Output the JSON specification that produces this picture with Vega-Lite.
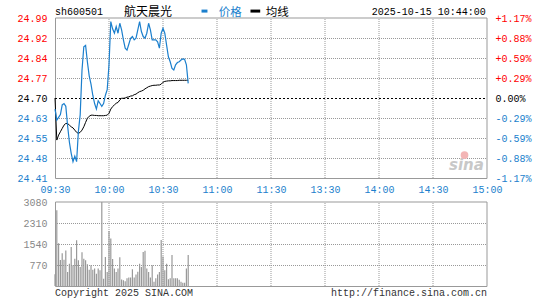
{
  "$schema": "https://vega.github.io/schema/vega-lite/v6.json",
  "width": 442,
  "height": 268,
  "autosize": {"type": "none"},
  "padding": {"left": 50, "top": 18, "right": 53, "bottom": 14},
  "background": "white",
  "config": {"view": {"stroke": null}, "text": {"font": "Liberation Mono", "fontSize": 10}},
  "datasets": {
    "ticks": [{"t": 30}, {"t": 60}, {"t": 90}, {"t": 120}, {"t": 150}, {"t": 180}, {"t": 210}],
    "min": [
      {"t": 0, "price": 24.66, "avg": 24.70, "vol": 430},
      {"t": 1, "price": 24.62, "avg": 24.548, "vol": 2780},
      {"t": 2, "price": 24.63, "avg": 24.566, "vol": 1570},
      {"t": 3, "price": 24.64, "avg": 24.578, "vol": 950},
      {"t": 4, "price": 24.675, "avg": 24.59, "vol": 1200},
      {"t": 5, "price": 24.68, "avg": 24.602, "vol": 960},
      {"t": 6, "price": 24.67, "avg": 24.608, "vol": 1300},
      {"t": 7, "price": 24.60, "avg": 24.608, "vol": 510},
      {"t": 8, "price": 24.54, "avg": 24.602, "vol": 820},
      {"t": 9, "price": 24.50, "avg": 24.596, "vol": 1430},
      {"t": 10, "price": 24.47, "avg": 24.592, "vol": 760},
      {"t": 11, "price": 24.49, "avg": 24.584, "vol": 1000},
      {"t": 12, "price": 24.47, "avg": 24.576, "vol": 1680},
      {"t": 13, "price": 24.58, "avg": 24.572, "vol": 940},
      {"t": 14, "price": 24.64, "avg": 24.576, "vol": 700},
      {"t": 15, "price": 24.80, "avg": 24.584, "vol": 1240},
      {"t": 16, "price": 24.885, "avg": 24.596, "vol": 1000},
      {"t": 17, "price": 24.89, "avg": 24.612, "vol": 940},
      {"t": 18, "price": 24.83, "avg": 24.627, "vol": 800},
      {"t": 19, "price": 24.78, "avg": 24.634, "vol": 600},
      {"t": 20, "price": 24.75, "avg": 24.638, "vol": 760},
      {"t": 21, "price": 24.71, "avg": 24.638, "vol": 600},
      {"t": 22, "price": 24.68, "avg": 24.637, "vol": 640},
      {"t": 23, "price": 24.66, "avg": 24.637, "vol": 450},
      {"t": 24, "price": 24.69, "avg": 24.636, "vol": 640},
      {"t": 25, "price": 24.68, "avg": 24.636, "vol": 580},
      {"t": 26, "price": 24.67, "avg": 24.636, "vol": 3080},
      {"t": 27, "price": 24.68, "avg": 24.636, "vol": 270},
      {"t": 28, "price": 24.71, "avg": 24.637, "vol": 1060},
      {"t": 29, "price": 24.73, "avg": 24.638, "vol": 510},
      {"t": 30, "price": 24.82, "avg": 24.645, "vol": 2020},
      {"t": 31, "price": 24.976, "avg": 24.66, "vol": 1740},
      {"t": 32, "price": 24.95, "avg": 24.669, "vol": 990},
      {"t": 33, "price": 24.934, "avg": 24.675, "vol": 640},
      {"t": 34, "price": 24.958, "avg": 24.681, "vol": 510},
      {"t": 35, "price": 24.934, "avg": 24.684, "vol": 640},
      {"t": 36, "price": 24.97, "avg": 24.693, "vol": 1050},
      {"t": 37, "price": 24.946, "avg": 24.699, "vol": 240},
      {"t": 38, "price": 24.91, "avg": 24.699, "vol": 210},
      {"t": 39, "price": 24.88, "avg": 24.70, "vol": 170},
      {"t": 40, "price": 24.873, "avg": 24.703, "vol": 280},
      {"t": 41, "price": 24.894, "avg": 24.704, "vol": 310},
      {"t": 42, "price": 24.916, "avg": 24.707, "vol": 310},
      {"t": 43, "price": 24.922, "avg": 24.708, "vol": 610},
      {"t": 44, "price": 24.91, "avg": 24.712, "vol": 310},
      {"t": 45, "price": 24.916, "avg": 24.714, "vol": 420},
      {"t": 46, "price": 24.946, "avg": 24.719, "vol": 520},
      {"t": 47, "price": 24.976, "avg": 24.723, "vol": 820},
      {"t": 48, "price": 24.94, "avg": 24.725, "vol": 700},
      {"t": 49, "price": 24.922, "avg": 24.728, "vol": 1250},
      {"t": 50, "price": 24.916, "avg": 24.733, "vol": 1290},
      {"t": 51, "price": 24.934, "avg": 24.737, "vol": 640},
      {"t": 52, "price": 24.97, "avg": 24.741, "vol": 510},
      {"t": 53, "price": 24.946, "avg": 24.743, "vol": 310},
      {"t": 54, "price": 24.91, "avg": 24.745, "vol": 760},
      {"t": 55, "price": 24.91, "avg": 24.746, "vol": 160},
      {"t": 56, "price": 24.91, "avg": 24.746, "vol": 280},
      {"t": 57, "price": 24.903, "avg": 24.747, "vol": 420},
      {"t": 58, "price": 24.88, "avg": 24.747, "vol": 510},
      {"t": 59, "price": 24.934, "avg": 24.75, "vol": 1690},
      {"t": 60, "price": 24.952, "avg": 24.757, "vol": 1080},
      {"t": 61, "price": 24.934, "avg": 24.76, "vol": 580},
      {"t": 62, "price": 24.891, "avg": 24.761, "vol": 820},
      {"t": 63, "price": 24.849, "avg": 24.762, "vol": 250},
      {"t": 64, "price": 24.831, "avg": 24.762, "vol": 280},
      {"t": 65, "price": 24.807, "avg": 24.763, "vol": 1140},
      {"t": 66, "price": 24.801, "avg": 24.763, "vol": 280},
      {"t": 67, "price": 24.82, "avg": 24.763, "vol": 280},
      {"t": 68, "price": 24.828, "avg": 24.763, "vol": 280},
      {"t": 69, "price": 24.831, "avg": 24.764, "vol": 230},
      {"t": 70, "price": 24.837, "avg": 24.764, "vol": 160},
      {"t": 71, "price": 24.841, "avg": 24.764, "vol": 120},
      {"t": 72, "price": 24.84, "avg": 24.764, "vol": 120},
      {"t": 73, "price": 24.82, "avg": 24.764, "vol": 640},
      {"t": 74, "price": 24.753, "avg": 24.764, "vol": 1140}
    ]
  },
  "resolve": {"scale": {"y": "independent"}, "axis": {"y": "independent"}},
  "layer": [
    {
      "data": {"name": "ticks"},
      "mark": {"type": "rule", "color": "#999999", "strokeDash": [1, 1], "strokeWidth": 1},
      "encoding": {
        "x": {"field": "t", "type": "quantitative", "scale": {"domain": [0, 240], "nice": false, "zero": false},
          "axis": {"orient": "bottom", "offset": -108, "values": [0, 30, 60, 90, 120, 150, 180, 210, 240],
            "labelExpr": "['09:30','10:00','10:30','11:00','11:30','13:30','14:00','14:30','15:00'][round(datum.value/30)]",
            "labelColor": "#1b7fcd", "labelFont": "Liberation Mono", "labelFontSize": 10, "labelPadding": 6,
            "grid": false, "domain": false, "ticks": false, "tickSize": 0, "title": null, "labelFlush": false, "labelOverlap": false}},
        "y": {"datum": 24.411, "type": "quantitative", "scale": {"domain": [24.411, 24.989], "range": [160, 0], "nice": false, "zero": false}, "axis": null},
        "y2": {"datum": 24.989}
      }
    },
    {"data": {"values": [{}]}, "mark": {"type": "rule", "color": "#999999", "strokeDash": [1, 1], "strokeWidth": 1, "yOffset": 0.5},
      "encoding": {"x": {"datum": 0, "type": "quantitative", "scale": {"domain": [0, 240], "nice": false, "zero": false}}, "x2": {"datum": 240},
        "y": {"datum": 24.48325, "type": "quantitative", "scale": {"domain": [24.411, 24.989], "range": [160, 0], "nice": false, "zero": false}, "axis": null}}},
    {"data": {"values": [{}]}, "mark": {"type": "rule", "color": "#999999", "strokeDash": [1, 1], "strokeWidth": 1, "yOffset": 0.5},
      "encoding": {"x": {"datum": 0, "type": "quantitative", "scale": {"domain": [0, 240], "nice": false, "zero": false}}, "x2": {"datum": 240},
        "y": {"datum": 24.5555, "type": "quantitative", "scale": {"domain": [24.411, 24.989], "range": [160, 0], "nice": false, "zero": false}, "axis": null}}},
    {"data": {"values": [{}]}, "mark": {"type": "rule", "color": "#999999", "strokeDash": [1, 1], "strokeWidth": 1, "yOffset": 0.5},
      "encoding": {"x": {"datum": 0, "type": "quantitative", "scale": {"domain": [0, 240], "nice": false, "zero": false}}, "x2": {"datum": 240},
        "y": {"datum": 24.62775, "type": "quantitative", "scale": {"domain": [24.411, 24.989], "range": [160, 0], "nice": false, "zero": false}, "axis": null}}},
    {"data": {"values": [{}]}, "mark": {"type": "rule", "color": "#999999", "strokeDash": [1, 1], "strokeWidth": 1, "yOffset": 0.5},
      "encoding": {"x": {"datum": 0, "type": "quantitative", "scale": {"domain": [0, 240], "nice": false, "zero": false}}, "x2": {"datum": 240},
        "y": {"datum": 24.77225, "type": "quantitative", "scale": {"domain": [24.411, 24.989], "range": [160, 0], "nice": false, "zero": false}, "axis": null}}},
    {"data": {"values": [{}]}, "mark": {"type": "rule", "color": "#999999", "strokeDash": [1, 1], "strokeWidth": 1, "yOffset": 0.5},
      "encoding": {"x": {"datum": 0, "type": "quantitative", "scale": {"domain": [0, 240], "nice": false, "zero": false}}, "x2": {"datum": 240},
        "y": {"datum": 24.8445, "type": "quantitative", "scale": {"domain": [24.411, 24.989], "range": [160, 0], "nice": false, "zero": false}, "axis": null}}},
    {"data": {"values": [{}]}, "mark": {"type": "rule", "color": "#999999", "strokeDash": [1, 1], "strokeWidth": 1, "yOffset": 0.5},
      "encoding": {"x": {"datum": 0, "type": "quantitative", "scale": {"domain": [0, 240], "nice": false, "zero": false}}, "x2": {"datum": 240},
        "y": {"datum": 24.91675, "type": "quantitative", "scale": {"domain": [24.411, 24.989], "range": [160, 0], "nice": false, "zero": false}, "axis": null}}},
    {
      "data": {"values": [{}]},
      "mark": {"type": "rect", "fill": "transparent", "stroke": "#999999", "strokeWidth": 1, "xOffset": 0.5, "yOffset": 0.5},
      "encoding": {
        "x": {"datum": 0, "type": "quantitative", "scale": {"domain": [0, 240], "nice": false, "zero": false}},
        "x2": {"datum": 240},
        "y": {"datum": 24.411, "type": "quantitative", "scale": {"domain": [24.411, 24.989], "range": [160, 0], "nice": false, "zero": false},
          "axis": {"orient": "left", "values": [24.411, 24.48325, 24.5555, 24.62775, 24.7, 24.77225, 24.8445, 24.91675, 24.989],
            "labelExpr": "abs(datum.value-24.5555)<0.001 ? '24.55' : format(datum.value, '.2f')",
            "labelColor": {"condition": [{"test": "datum.value > 24.705", "value": "#ff0000"}, {"test": "datum.value < 24.695", "value": "#1b7fcd"}], "value": "#000000"},
            "labelFont": "Liberation Mono", "labelFontSize": 10, "labelPadding": 3, "ticks": false, "tickSize": 0, "domain": false,
            "grid": false, "title": null, "labelFlush": false, "labelOverlap": false}},
        "y2": {"datum": 24.989}
      }
    },
    {
      "data": {"values": [{}]},
      "mark": {"type": "text", "text": "sina", "font": "DejaVu Sans", "fontSize": 15, "fontStyle": "italic", "fontWeight": "bold", "color": "#c8c8c8", "align": "center", "baseline": "alphabetic"},
      "encoding": {
        "x": {"datum": 228.6, "type": "quantitative", "scale": {"domain": [0, 240], "nice": false, "zero": false}},
        "y": {"datum": 24.44, "type": "quantitative", "scale": {"domain": [24.411, 24.989], "range": [160, 0], "nice": false, "zero": false}, "axis": null}
      }
    },
    {
      "data": {"values": [{}]},
      "mark": {"type": "point", "filled": true, "color": "#f3b5b5", "size": 60, "opacity": 1},
      "encoding": {
        "x": {"datum": 227.5, "type": "quantitative", "scale": {"domain": [0, 240], "nice": false, "zero": false}},
        "y": {"datum": 24.494, "type": "quantitative", "scale": {"domain": [24.411, 24.989], "range": [160, 0], "nice": false, "zero": false}, "axis": null}
      }
    },
    {
      "data": {"values": [{}]},
      "mark": {"type": "rule", "color": "#000000", "strokeDash": [2, 2], "strokeWidth": 1, "yOffset": 0.5},
      "encoding": {
        "x": {"datum": 0, "type": "quantitative", "scale": {"domain": [0, 240], "nice": false, "zero": false}},
        "x2": {"datum": 240},
        "y": {"datum": 24.7, "type": "quantitative", "scale": {"domain": [24.411, 24.989], "range": [160, 0], "nice": false, "zero": false},
          "axis": {"orient": "right", "values": [24.411, 24.48325, 24.5555, 24.62775, 24.7, 24.77225, 24.8445, 24.91675, 24.989],
            "labelExpr": "abs(datum.value-24.70)<0.001 ? '0.00%' : (datum.value>24.70 ? '+' : '-') + format(abs(datum.value-24.70)/24.70*100, '.2f') + '%'",
            "labelColor": {"condition": [{"test": "datum.value > 24.705", "value": "#ff0000"}, {"test": "datum.value < 24.695", "value": "#1b7fcd"}], "value": "#000000"},
            "labelFont": "Liberation Mono", "labelFontSize": 10, "labelPadding": 3, "ticks": false, "tickSize": 0, "domain": false,
            "grid": false, "title": null, "labelFlush": false, "labelOverlap": false}}
      }
    },
    {
      "data": {"name": "min"},
      "mark": {"type": "line", "color": "#000000", "strokeWidth": 1},
      "encoding": {
        "x": {"field": "t", "type": "quantitative", "scale": {"domain": [0, 240], "nice": false, "zero": false}},
        "y": {"field": "avg", "type": "quantitative", "scale": {"domain": [24.411, 24.989], "range": [160, 0], "nice": false, "zero": false}, "axis": null}
      }
    },
    {
      "data": {"name": "min"},
      "mark": {"type": "line", "color": "#1b7fcd", "strokeWidth": 1.2},
      "encoding": {
        "x": {"field": "t", "type": "quantitative", "scale": {"domain": [0, 240], "nice": false, "zero": false}},
        "y": {"field": "price", "type": "quantitative", "scale": {"domain": [24.411, 24.989], "range": [160, 0], "nice": false, "zero": false}, "axis": null}
      }
    },
    {
      "data": {"values": [{}]},
      "mark": {"type": "text", "text": "sh600501", "align": "left", "baseline": "alphabetic", "dy": -3, "font": "Liberation Mono", "fontSize": 10, "color": "#000000"},
      "encoding": {
        "x": {"datum": 0, "type": "quantitative", "scale": {"domain": [0, 240], "nice": false, "zero": false}},
        "y": {"datum": 24.989, "type": "quantitative", "scale": {"domain": [24.411, 24.989], "range": [160, 0], "nice": false, "zero": false}, "axis": null}
      }
    },
    {
      "data": {"values": [{}]},
      "mark": {"type": "text", "text": "航天晨光", "align": "center", "baseline": "alphabetic", "dy": -2, "font": "Noto Sans CJK SC", "fontSize": 12, "color": "#000000"},
      "encoding": {
        "x": {"datum": 51.6, "type": "quantitative", "scale": {"domain": [0, 240], "nice": false, "zero": false}},
        "y": {"datum": 24.989, "type": "quantitative", "scale": {"domain": [24.411, 24.989], "range": [160, 0], "nice": false, "zero": false}, "axis": null}
      }
    },
    {
      "data": {"values": [{}]},
      "mark": {"type": "rule", "color": "#1b7fcd", "strokeWidth": 3},
      "encoding": {
        "x": {"datum": 81.4, "type": "quantitative", "scale": {"domain": [0, 240], "nice": false, "zero": false}},
        "x2": {"datum": 84.7},
        "y": {"datum": 25.014, "type": "quantitative", "scale": {"domain": [24.411, 24.989], "range": [160, 0], "nice": false, "zero": false}, "axis": null}
      }
    },
    {
      "data": {"values": [{}]},
      "mark": {"type": "text", "text": "价格", "align": "left", "baseline": "alphabetic", "dy": -2.5, "font": "Noto Sans CJK SC", "fontSize": 11.5, "color": "#1b7fcd"},
      "encoding": {
        "x": {"datum": 91.0, "type": "quantitative", "scale": {"domain": [0, 240], "nice": false, "zero": false}},
        "y": {"datum": 24.989, "type": "quantitative", "scale": {"domain": [24.411, 24.989], "range": [160, 0], "nice": false, "zero": false}, "axis": null}
      }
    },
    {
      "data": {"values": [{}]},
      "mark": {"type": "rule", "color": "#000000", "strokeWidth": 3},
      "encoding": {
        "x": {"datum": 108.6, "type": "quantitative", "scale": {"domain": [0, 240], "nice": false, "zero": false}},
        "x2": {"datum": 114.0},
        "y": {"datum": 25.014, "type": "quantitative", "scale": {"domain": [24.411, 24.989], "range": [160, 0], "nice": false, "zero": false}, "axis": null}
      }
    },
    {
      "data": {"values": [{}]},
      "mark": {"type": "text", "text": "均线", "align": "left", "baseline": "alphabetic", "dy": -2.5, "font": "Noto Sans CJK SC", "fontSize": 11.5, "color": "#000000"},
      "encoding": {
        "x": {"datum": 117.1, "type": "quantitative", "scale": {"domain": [0, 240], "nice": false, "zero": false}},
        "y": {"datum": 24.989, "type": "quantitative", "scale": {"domain": [24.411, 24.989], "range": [160, 0], "nice": false, "zero": false}, "axis": null}
      }
    },
    {
      "data": {"values": [{}]},
      "mark": {"type": "text", "text": "2025-10-15 10:44:00", "align": "right", "baseline": "alphabetic", "dy": -3, "font": "Liberation Mono", "fontSize": 10, "color": "#000000"},
      "encoding": {
        "x": {"datum": 239.3, "type": "quantitative", "scale": {"domain": [0, 240], "nice": false, "zero": false}},
        "y": {"datum": 24.989, "type": "quantitative", "scale": {"domain": [24.411, 24.989], "range": [160, 0], "nice": false, "zero": false}, "axis": null}
      }
    },
    {
      "data": {"name": "ticks"},
      "mark": {"type": "rule", "color": "#999999", "strokeDash": [1, 1], "strokeWidth": 1},
      "encoding": {
        "x": {"field": "t", "type": "quantitative", "scale": {"domain": [0, 240], "nice": false, "zero": false}},
        "y": {"datum": 0, "type": "quantitative", "scale": {"domain": [0, 3080], "range": [268, 184], "nice": false, "zero": false}, "axis": null},
        "y2": {"datum": 3080}
      }
    },
    {"data": {"values": [{}]}, "mark": {"type": "rule", "color": "#999999", "strokeDash": [1, 1], "strokeWidth": 1, "yOffset": 0.5},
      "encoding": {"x": {"datum": 0, "type": "quantitative", "scale": {"domain": [0, 240], "nice": false, "zero": false}}, "x2": {"datum": 240},
        "y": {"datum": 770, "type": "quantitative", "scale": {"domain": [0, 3080], "range": [268, 184], "nice": false, "zero": false}, "axis": null}}},
    {"data": {"values": [{}]}, "mark": {"type": "rule", "color": "#999999", "strokeDash": [1, 1], "strokeWidth": 1, "yOffset": 0.5},
      "encoding": {"x": {"datum": 0, "type": "quantitative", "scale": {"domain": [0, 240], "nice": false, "zero": false}}, "x2": {"datum": 240},
        "y": {"datum": 1540, "type": "quantitative", "scale": {"domain": [0, 3080], "range": [268, 184], "nice": false, "zero": false}, "axis": null}}},
    {"data": {"values": [{}]}, "mark": {"type": "rule", "color": "#999999", "strokeDash": [1, 1], "strokeWidth": 1, "yOffset": 0.5},
      "encoding": {"x": {"datum": 0, "type": "quantitative", "scale": {"domain": [0, 240], "nice": false, "zero": false}}, "x2": {"datum": 240},
        "y": {"datum": 2310, "type": "quantitative", "scale": {"domain": [0, 3080], "range": [268, 184], "nice": false, "zero": false}, "axis": null}}},
    {
      "data": {"values": [{}]},
      "mark": {"type": "rect", "fill": "transparent", "stroke": "#999999", "strokeWidth": 1, "xOffset": 0.5, "yOffset": 0.5},
      "encoding": {
        "x": {"datum": 0, "type": "quantitative", "scale": {"domain": [0, 240], "nice": false, "zero": false}},
        "x2": {"datum": 240},
        "y": {"datum": 0, "type": "quantitative", "scale": {"domain": [0, 3080], "range": [268, 184], "nice": false, "zero": false},
          "axis": {"orient": "left", "values": [0, 770, 1540, 2310, 3080],
            "labelExpr": "datum.value == 0 ? '' : '' + datum.value",
            "labelColor": "#888888", "labelFont": "Liberation Mono", "labelFontSize": 10, "labelPadding": 3, "ticks": false, "tickSize": 0, "domain": false,
            "grid": false, "title": null, "labelFlush": false, "labelOverlap": false}},
        "y2": {"datum": 3080}
      }
    },
    {
      "data": {"name": "min"},
      "mark": {"type": "bar", "color": "#999999", "size": 1.2},
      "encoding": {
        "x": {"field": "t", "type": "quantitative", "scale": {"domain": [0, 240], "nice": false, "zero": false}},
        "y": {"field": "vol", "type": "quantitative", "scale": {"domain": [0, 3080], "range": [268, 184], "nice": false, "zero": false}, "axis": null}
      }
    },
    {
      "data": {"values": [{}]},
      "mark": {"type": "text", "text": "Copyright 2025 SINA.COM", "align": "left", "baseline": "alphabetic", "dy": 10, "font": "Liberation Mono", "fontSize": 10, "color": "#333333"},
      "encoding": {
        "x": {"datum": 0, "type": "quantitative", "scale": {"domain": [0, 240], "nice": false, "zero": false}},
        "y": {"datum": 0, "type": "quantitative", "scale": {"domain": [0, 3080], "range": [268, 184], "nice": false, "zero": false}, "axis": null}
      }
    },
    {
      "data": {"values": [{}]},
      "mark": {"type": "text", "text": "http://finance.sina.com.cn", "align": "right", "baseline": "alphabetic", "dy": 10, "font": "Liberation Mono", "fontSize": 10, "color": "#333333"},
      "encoding": {
        "x": {"datum": 240, "type": "quantitative", "scale": {"domain": [0, 240], "nice": false, "zero": false}},
        "y": {"datum": 0, "type": "quantitative", "scale": {"domain": [0, 3080], "range": [268, 184], "nice": false, "zero": false}, "axis": null}
      }
    }
  ]
}
